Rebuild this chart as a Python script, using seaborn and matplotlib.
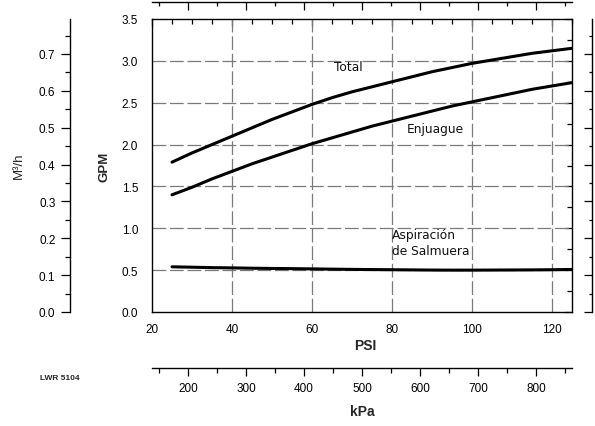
import matplotlib
matplotlib.use("Agg")
import matplotlib.pyplot as plt
from matplotlib.ticker import (MultipleLocator, FixedLocator, FormatStrFormatter,
                               NullFormatter)
import numpy as np
import pandas as pd
import seaborn as sns

# Flow curves (GPM) against inlet pressure (PSI)
psi = [25, 30, 35, 40, 45, 50, 55, 60, 65, 70, 75, 80, 85, 90, 95, 100,
       105, 110, 115, 120, 125]
total_gpm = [1.79, 1.90, 2.00, 2.10, 2.20, 2.30, 2.39, 2.48, 2.56, 2.63, 2.69,
             2.75, 2.81, 2.87, 2.92, 2.97, 3.01, 3.05, 3.09, 3.12, 3.15]
enjuague_gpm = [1.40, 1.49, 1.59, 1.68, 1.77, 1.85, 1.93, 2.01, 2.08, 2.15,
                2.22, 2.28, 2.34, 2.40, 2.46, 2.51, 2.56, 2.61, 2.66, 2.70, 2.74]
salmuera_gpm = [0.54, 0.535, 0.53, 0.527, 0.523, 0.52, 0.518, 0.515, 0.512,
                0.509, 0.507, 0.505, 0.503, 0.501, 0.50, 0.50, 0.501, 0.502,
                0.503, 0.505, 0.508]
series_names = ["Total", "Enjuague", "Aspiración de Salmuera"]

# Secondary scale ticks
kpa_major = [200, 300, 400, 500, 600, 700, 800]
kpa_minor = [150, 250, 350, 450, 550, 650, 750, 850]
m3h_major = [0.0, 0.1, 0.2, 0.3, 0.4, 0.5, 0.6, 0.7]
m3h_minor = [0.05, 0.15, 0.25, 0.35, 0.45, 0.55, 0.65, 0.75]

PSI_TO_KPA = 6.894757
GPM_TO_M3H = 0.227125

sns.set_style("white")
plt.rcParams["font.family"] = ["Liberation Sans", "DejaVu Sans"]
plt.rcParams["axes.linewidth"] = 1.0

df = pd.DataFrame({
    "PSI": psi * 3,
    "GPM": total_gpm + enjuague_gpm + salmuera_gpm,
    "serie": [series_names[0]] * len(psi) + [series_names[1]] * len(psi)
             + [series_names[2]] * len(psi),
})

fig = plt.figure(figsize=(5.95, 4.27), dpi=100)
W, H = 595, 427
ax = fig.add_axes([152 / W, (H - 313) / H, 420 / W, 293 / H])

sns.lineplot(data=df, x="PSI", y="GPM", hue="serie", palette=["black"] * 3,
             linewidth=2.2, legend=False, ax=ax, zorder=3)

ax.set_xlim(20, 125)
ax.set_ylim(0, 3.5)
ax.xaxis.set_major_locator(MultipleLocator(20))
ax.xaxis.set_minor_locator(MultipleLocator(5))
ax.yaxis.set_major_locator(MultipleLocator(0.5))
ax.yaxis.set_minor_locator(MultipleLocator(0.25))
ax.yaxis.set_major_formatter(FormatStrFormatter("%.1f"))
ax.tick_params(which="both", direction="in", top=True, right=True,
               labeltop=False, labelright=False, colors="black", width=0.9)
ax.tick_params(which="major", length=5, labelsize=8.5)
ax.tick_params(which="minor", length=3.5)
ax.tick_params(axis="y", which="major", pad=10)
ax.tick_params(axis="x", which="major", pad=8)
for s in ax.spines.values():
    s.set_visible(True)
    s.set_color("black")
    s.set_linewidth(1.0)

# dashed grid at interior major ticks
for xv in [40, 60, 80, 100, 120]:
    ax.axvline(xv, color="#7a7a7a", lw=0.9, dashes=(11, 3), zorder=1)
for yv in [0.5, 1.0, 1.5, 2.0, 2.5, 3.0]:
    ax.axhline(yv, color="#7a7a7a", lw=0.9, dashes=(11, 3), zorder=1)

ax.set_xlabel("")
ax.set_ylabel("")

# Curve labels
lab_kw = dict(family="DejaVu Sans", fontsize=8.8, color="#111111")
ax.text(69, 2.93, "Total", ha="center", va="center", **lab_kw)
ax.text(90.75, 2.19, "Enjuague", ha="center", va="center", **lab_kw)
ax.text(80, 0.83, "Aspiración\nde Salmuera", ha="left", va="center",
        linespacing=1.25, **lab_kw)

# Axis titles
fig.text(105 / W, 1 - 167 / H, "GPM", rotation=90, ha="center", va="center",
         fontsize=9.5, fontweight="bold")
fig.text(365 / W, 1 - 346 / H, "PSI", ha="center", va="center",
         fontsize=10, fontweight="bold")
fig.text(362 / W, 1 - 412 / H, "kPa", ha="center", va="center",
         fontsize=10, fontweight="bold")
fig.text(19 / W, 1 - 166 / H, "M³/h", rotation=90, ha="center", va="center",
         fontsize=9.5)
fig.text(60 / W, 1 - 379 / H, "LWR 5104", ha="center", va="center",
         fontsize=6, fontweight="bold")

kpa_funcs = (lambda x: x * PSI_TO_KPA, lambda x: x / PSI_TO_KPA)
m3h_funcs = (lambda y: y * GPM_TO_M3H, lambda y: y / GPM_TO_M3H)

# kPa scale below the plot
kpa_ax = ax.secondary_xaxis(-(369 - 313) / 293, functions=kpa_funcs)
kpa_ax.xaxis.set_major_locator(FixedLocator(kpa_major))
kpa_ax.xaxis.set_minor_locator(FixedLocator(kpa_minor))
kpa_ax.tick_params(which="both", direction="out", colors="black", width=0.9)
kpa_ax.tick_params(which="major", length=6, labelsize=8.5, pad=4)
kpa_ax.tick_params(which="minor", length=3.5)

# kPa scale along the top, unlabeled
top_ax = ax.secondary_xaxis(1 + 17 / 293, functions=kpa_funcs)
top_ax.xaxis.set_major_locator(FixedLocator(kpa_major))
top_ax.xaxis.set_minor_locator(FixedLocator(kpa_minor))
top_ax.xaxis.set_major_formatter(NullFormatter())
top_ax.tick_params(which="both", direction="in", colors="black", width=0.9)
top_ax.tick_params(which="major", length=6)
top_ax.tick_params(which="minor", length=3)

# m³/h scale on the left
m3_ax = ax.secondary_yaxis(-(152 - 70) / 420, functions=m3h_funcs)
m3_ax.yaxis.set_major_locator(FixedLocator(m3h_major))
m3_ax.yaxis.set_minor_locator(FixedLocator(m3h_minor))
m3_ax.yaxis.set_major_formatter(FormatStrFormatter("%.1f"))
m3_ax.tick_params(which="both", direction="out", colors="black", width=0.9)
m3_ax.tick_params(which="major", length=6.5, labelsize=8.5, pad=4)
m3_ax.tick_params(which="minor", length=3.5)

# m³/h scale on the right, unlabeled
r_ax = ax.secondary_yaxis((592 - 152) / 420, functions=m3h_funcs)
r_ax.yaxis.set_major_locator(FixedLocator(m3h_major))
r_ax.yaxis.set_minor_locator(FixedLocator(m3h_minor))
r_ax.yaxis.set_major_formatter(NullFormatter())
r_ax.tick_params(which="both", direction="in", colors="black", width=0.9)
r_ax.tick_params(which="major", length=6)
r_ax.tick_params(which="minor", length=2.5)

for sec in (kpa_ax, top_ax, m3_ax, r_ax):
    for s in sec.spines.values():
        s.set_color("black")
        s.set_linewidth(1.0)

fig.savefig("out.png", dpi=100, facecolor="white")
